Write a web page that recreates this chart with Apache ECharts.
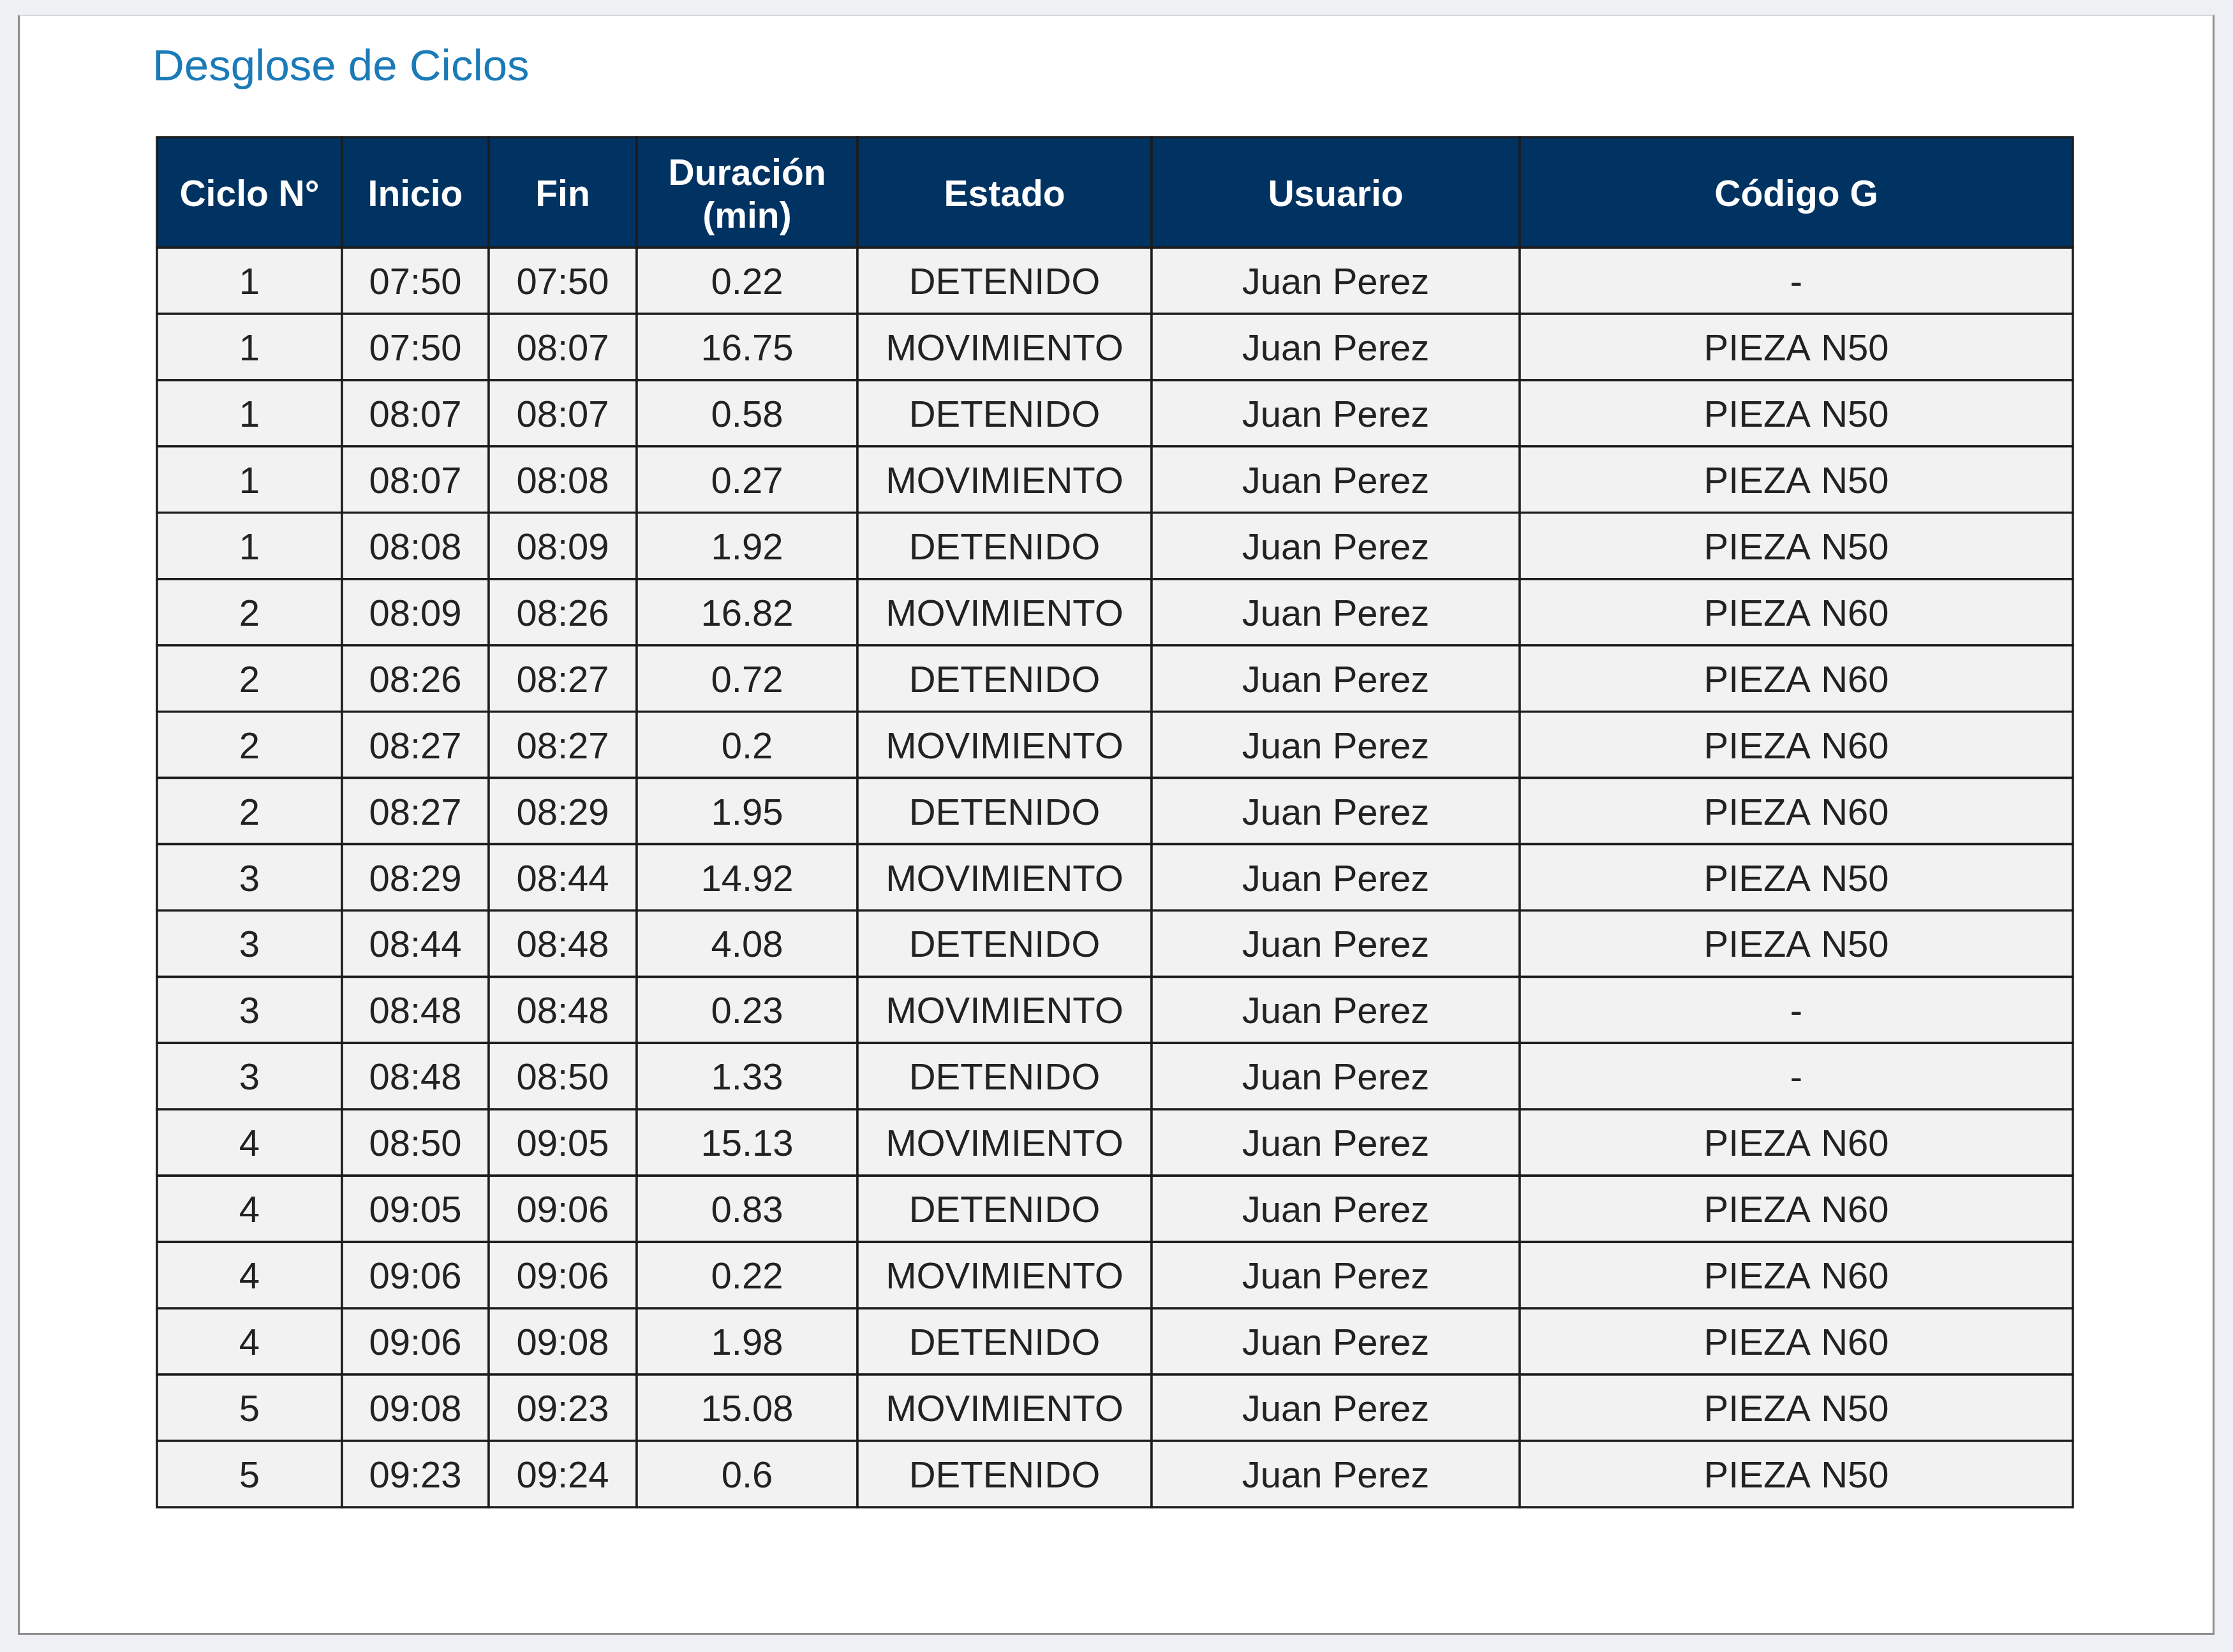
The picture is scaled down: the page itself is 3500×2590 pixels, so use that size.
<!DOCTYPE html>
<html>
<head>
<meta charset="utf-8">
<script src="https://cdn.jsdelivr.net/npm/echarts@6/dist/echarts.min.js"></script>
<style>
  html, body { margin: 0; padding: 0; background: #eef0f4; }
  #panel { position: absolute; left: 28px; top: 23px; width: 3437px; height: 2535px;
           background: #ffffff; border-left: 3px solid #8c8c8c; border-right: 3px solid #8c8c8c;
           border-bottom: 3px solid #8c8c8c; border-top: 2px solid #d3d7df; }
  #chart { position: absolute; left: 0; top: 0; width: 3500px; height: 2590px; }
</style>
</head>
<body>
<div id="panel"></div>
<div id="chart"></div>
<script>
// ---- data ----
const headers = ['Ciclo N°', 'Inicio', 'Fin', 'Duración\n(min)', 'Estado', 'Usuario', 'Código G'];
const ciclo = [1, 1, 1, 1, 1, 2, 2, 2, 2, 3, 3, 3, 3, 4, 4, 4, 4, 5, 5];
const inicio = ['07:50', '07:50', '08:07', '08:07', '08:08', '08:09', '08:26', '08:27', '08:27', '08:29',
                '08:44', '08:48', '08:48', '08:50', '09:05', '09:06', '09:06', '09:08', '09:23'];
const fin = ['07:50', '08:07', '08:07', '08:08', '08:09', '08:26', '08:27', '08:27', '08:29', '08:44',
             '08:48', '08:48', '08:50', '09:05', '09:06', '09:06', '09:08', '09:23', '09:24'];
const duracion = [0.22, 16.75, 0.58, 0.27, 1.92, 16.82, 0.72, 0.2, 1.95, 14.92,
                  4.08, 0.23, 1.33, 15.13, 0.83, 0.22, 1.98, 15.08, 0.6];
const estado = ['DETENIDO', 'MOVIMIENTO', 'DETENIDO', 'MOVIMIENTO', 'DETENIDO', 'MOVIMIENTO', 'DETENIDO',
                'MOVIMIENTO', 'DETENIDO', 'MOVIMIENTO', 'DETENIDO', 'MOVIMIENTO', 'DETENIDO', 'MOVIMIENTO',
                'DETENIDO', 'MOVIMIENTO', 'DETENIDO', 'MOVIMIENTO', 'DETENIDO'];
const usuario = ['Juan Perez', 'Juan Perez', 'Juan Perez', 'Juan Perez', 'Juan Perez', 'Juan Perez',
                 'Juan Perez', 'Juan Perez', 'Juan Perez', 'Juan Perez', 'Juan Perez', 'Juan Perez',
                 'Juan Perez', 'Juan Perez', 'Juan Perez', 'Juan Perez', 'Juan Perez', 'Juan Perez', 'Juan Perez'];
const codigo = ['-', 'PIEZA N50', 'PIEZA N50', 'PIEZA N50', 'PIEZA N50', 'PIEZA N60', 'PIEZA N60',
                'PIEZA N60', 'PIEZA N60', 'PIEZA N50', 'PIEZA N50', '-', '-', 'PIEZA N60',
                'PIEZA N60', 'PIEZA N60', 'PIEZA N60', 'PIEZA N50', 'PIEZA N50'];

// ---- layout (styling only) ----
const colWidths = [290, 230, 232, 346, 461, 577, 867];
const colStart = colWidths.reduce((a, w, i) => { a.push(i ? a[i - 1] + colWidths[i - 1] : 0); return a; }, []);
const totalW = colWidths.reduce((a, b) => a + b, 0);
const FONT = '"Liberation Sans", Arial, Helvetica, sans-serif';

const columns = [ciclo, inicio, fin, duracion, estado, usuario, codigo];
const rowLabels = ciclo.map((_, i) => 'r' + i);

const headerData = headers.map((h, c) => [c, 0]);
const bodyData = [];
for (let r = 0; r < ciclo.length; r++) {
  for (let c = 0; c < columns.length; c++) {
    bodyData.push([c, r]);
  }
}

function makeRender(isHeader) {
  return function (params, api) {
    const c = api.value(0);
    const r = api.value(1);
    const txt = isHeader ? headers[c] : String(columns[c][r]);
    const p0 = api.coord([colStart[c], r]);
    const p1 = api.coord([colStart[c] + colWidths[c], r]);
    const h = api.size([0, 1])[1];
    const x = p0[0], w = p1[0] - p0[0], y = p0[1] - h / 2;
    return {
      type: 'group',
      children: [
        { type: 'rect', shape: { x: x, y: y, width: w, height: h },
          style: { fill: isHeader ? '#003262' : '#f2f2f2', stroke: '#1c1c1c', lineWidth: 3.5 } },
        { type: 'text',
          style: { text: txt, x: x + w / 2, y: y + h / 2 + (isHeader ? 6 : 5), align: 'center', verticalAlign: 'middle',
                   fill: isHeader ? '#ffffff' : '#222222',
                   font: (isHeader ? 'bold 57px ' : '58px ') + FONT, lineHeight: 67 } }
      ]
    };
  };
}

const chart = echarts.init(document.getElementById('chart'));
chart.setOption({
  backgroundColor: 'transparent',
  animation: false,
  title: {
    text: 'Desglose de Ciclos', left: 234, top: 67,
    textStyle: { color: '#1b7ab8', fontSize: 69, fontWeight: 'normal', fontFamily: FONT }
  },
  grid: [
    { left: 246, top: 215, width: totalW, height: 173 },
    { left: 246, top: 388, width: totalW, height: 1975 }
  ],
  xAxis: [
    { type: 'value', gridIndex: 0, min: 0, max: totalW, show: false },
    { type: 'value', gridIndex: 1, min: 0, max: totalW, show: false }
  ],
  yAxis: [
    { type: 'category', gridIndex: 0, data: ['header'], show: false },
    { type: 'category', gridIndex: 1, data: rowLabels, inverse: true, show: false }
  ],
  series: [
    { type: 'custom', xAxisIndex: 1, yAxisIndex: 1, data: bodyData, renderItem: makeRender(false), clip: false, silent: true },
    { type: 'custom', xAxisIndex: 0, yAxisIndex: 0, data: headerData, renderItem: makeRender(true), clip: false, silent: true }
  ]
});
</script>
</body>
</html>
